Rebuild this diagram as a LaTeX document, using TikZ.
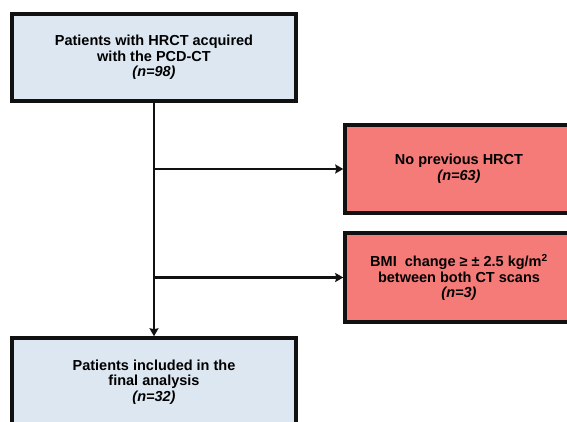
\documentclass[tikz,border=0pt]{standalone}
\usepackage{fontspec}
\setmainfont{Liberation Sans}
\usetikzlibrary{arrows.meta,positioning}
\definecolor{boxink}{HTML}{111111}
\definecolor{paleblue}{HTML}{DDE7F2}
\definecolor{salmon}{HTML}{F57B78}
\tikzset{
  flowbox/.style={draw=boxink,line width=3.5pt,align=center,inner sep=0pt,
    font=\fontsize{14.5}{15.5}\selectfont\bfseries},
  patbox/.style={flowbox,fill=paleblue,minimum width=284pt},
  exclbox/.style={flowbox,fill=salmon,minimum width=228pt},
  flowline/.style={draw=boxink,line width=2.6pt,-{Stealth[length=8pt,width=9pt,inset=1pt]}}
}
\begin{document}
\begin{tikzpicture}[x=1pt,y=-1pt]
  \useasboundingbox (0,0) rectangle (567,422);
  \clip (0,0) rectangle (567,422);
  \fill[white] (0,0) rectangle (567,422);

  \node[patbox,minimum height=87pt] (start) at (154,57.5)
    {Patients with HRCT acquired\\with the PCD-CT\\\textit{(n=98)}};
  \node[patbox,minimum height=88pt] (final) at (154,382)
    {Patients included in the\\final analysis\\\textit{(n=32)}};

  \node[exclbox,minimum height=88pt] (noprev) at (459,169)
    {No previous HRCT\\\textit{(n=63)}};
  \node[exclbox,minimum height=89pt] (bmi) at (459,277.5)
    {BMI\ \ change ≥ ± 2.5 kg/m\textsuperscript{2}\\between both CT scans\\\textit{(n=3)}};

  \coordinate (j1) at (154,169);
  \coordinate (j2) at (154,277.5);

  \draw[flowline] (start.south) -- (final.north);
  \draw[flowline] (j1) -- (noprev.west);
  \draw[flowline] (j2) -- (bmi.west);
\end{tikzpicture}
\end{document}
